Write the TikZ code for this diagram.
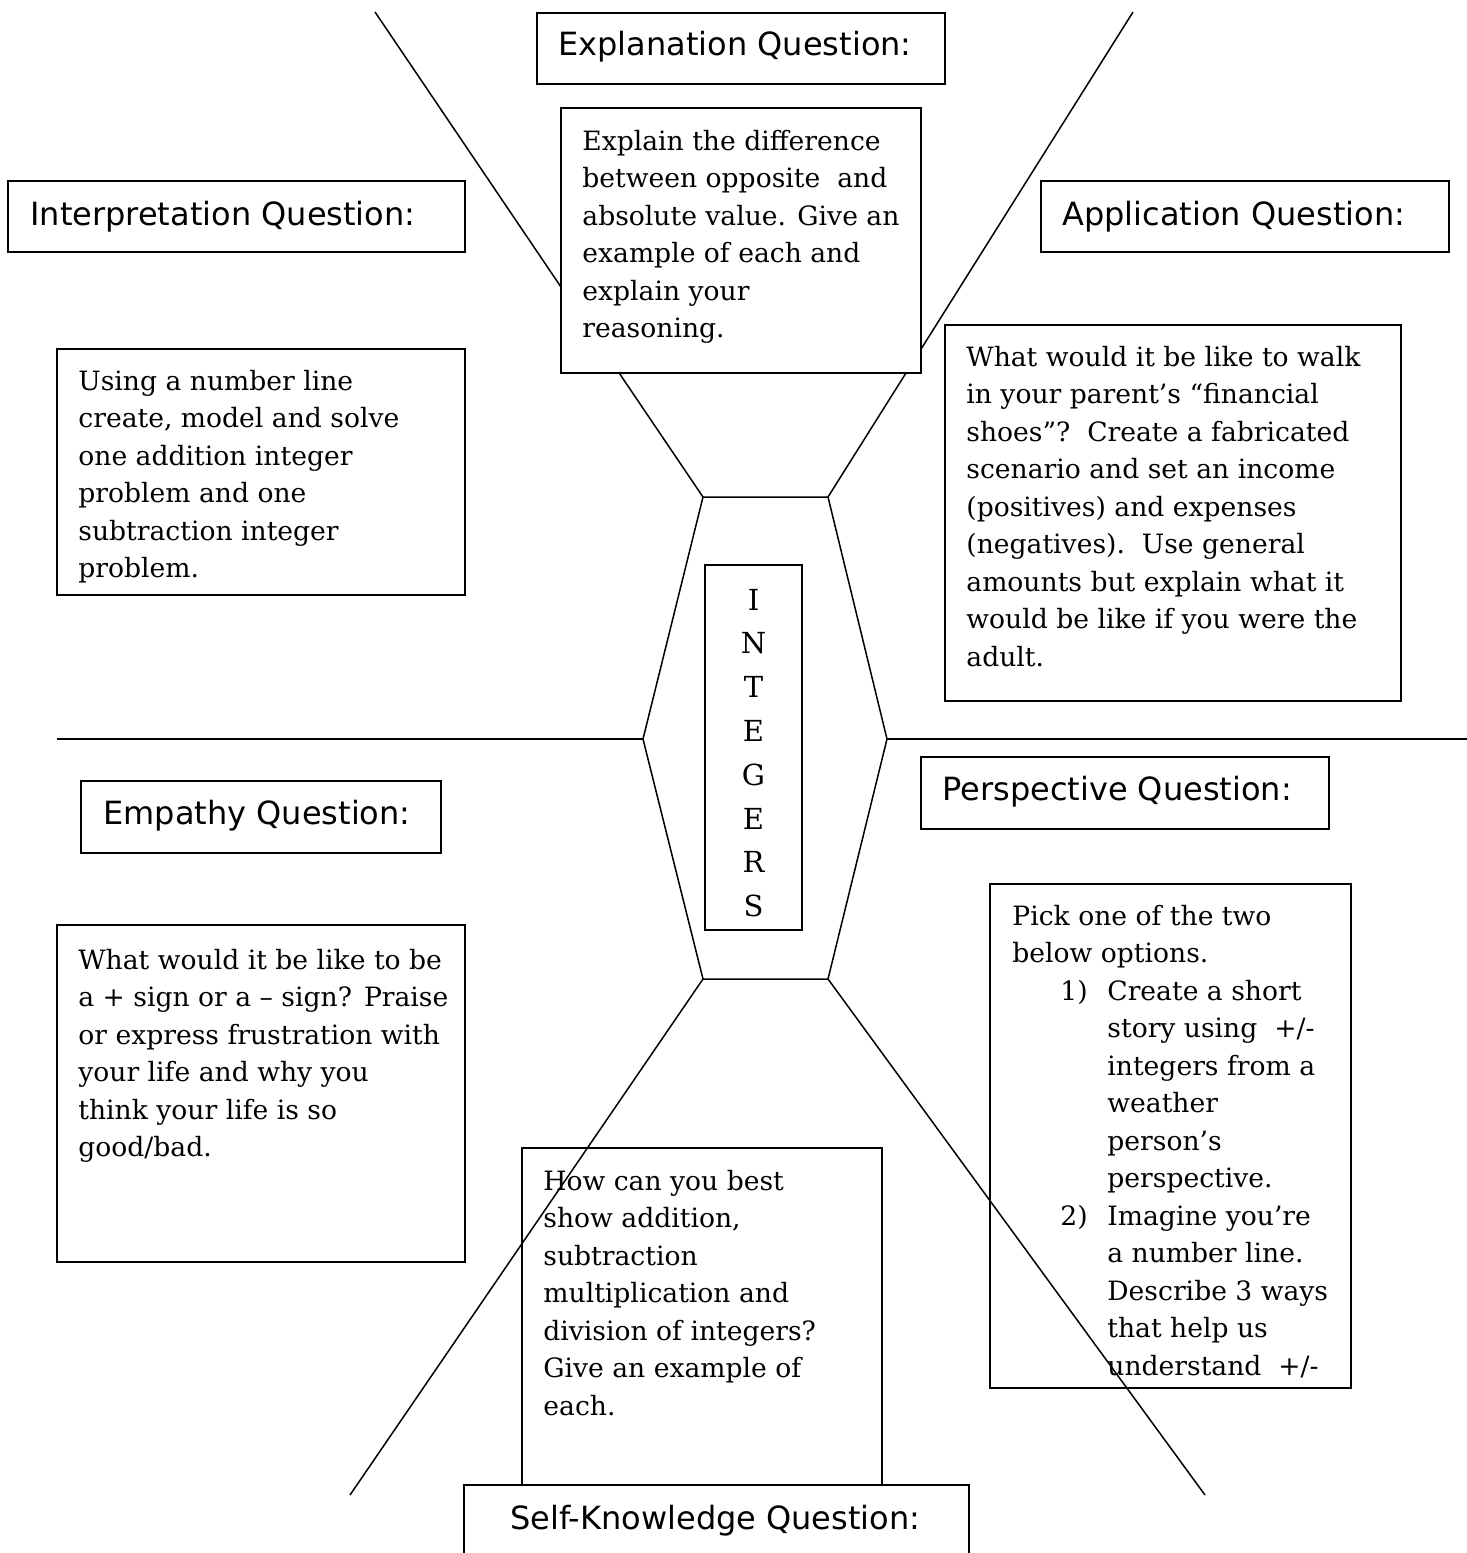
\documentclass[tikz,border=0pt]{standalone}
\usepackage{fontspec}
\setmainfont{DejaVu Serif}
\newfontfamily\headfont{DejaVu Sans}
\begin{document}
% a multi-line node sits on the baseline of its last line,
% so each text is placed by the baseline of that line
\begin{tikzpicture}[x=0.5pt,y=-0.5pt,
  box/.style={draw=black, line width=1pt, fill=white},
  rule/.style={draw=black, line width=0.75pt},
  heading/.style={anchor=base west, inner sep=0pt, font=\headfont\fontsize{16pt}{19pt}\selectfont},
  bodytext/.style={anchor=base west, inner sep=0pt, align=left, font=\fontsize{13.3pt}{18.75pt}\selectfont},
  lettercol/.style={anchor=base, inner sep=0pt, align=center, font=\fontsize{14.5pt}{21.9pt}\selectfont}]
\useasboundingbox[fill=white] (0,0) rectangle (1467,1553);

% hexagon corners
\coordinate (ht-l) at (703,497);
\coordinate (ht-r) at (828,497);
\coordinate (hm-l) at (643,739);
\coordinate (hm-r) at (887,739);
\coordinate (hb-l) at (703,979);
\coordinate (hb-r) at (828,979);
% free ends of the spokes
\coordinate (top-l) at (375,12);
\coordinate (top-r) at (1133,12);
\coordinate (bot-l) at (350,1495);
\coordinate (bot-r) at (1205,1495);
\coordinate (mid-l) at (57,739);
\coordinate (mid-r) at (1467,739);

% upper spokes run beneath the boxes
\draw[rule] (top-l) -- (ht-l);
\draw[rule] (top-r) -- (ht-r);
\draw[rule] (mid-l) -- (hm-l);
\draw[rule] (hm-r) -- (mid-r);
\draw[rule] (ht-l) -- (ht-r) -- (hm-r) -- (hb-r) -- (hb-l) -- (hm-l) -- cycle;

% heading boxes
\draw[box] (537,13) rectangle (945,84);
\node[heading] (h-expl) at (558,55) {Explanation Question:};
\draw[box] (8,181) rectangle (465,252);
\node[heading] (h-interp) at (30,225) {Interpretation Question:};
\draw[box] (1041,181) rectangle (1449,252);
\node[heading] (h-appl) at (1062,225) {Application Question:};
\draw[box] (81,781) rectangle (441,853);
\node[heading] (h-emp) at (103,824) {Empathy Question:};
\draw[box] (921,757) rectangle (1329,829);
\node[heading] (h-persp) at (942,800) {Perspective Question:};
\draw[box] (464,1560) -- (464,1485) -- (969,1485) -- (969,1560);
\node[heading] (h-self) at (510,1529) {Self-Knowledge Question:};

% body boxes
\draw[box] (561,108) rectangle (921,373);
\node[bodytext] (t-expl) at (582,337.5) {Explain the difference\\between opposite\ \ and\\absolute value. Give an\\example of each and\\explain your\\reasoning.};

\draw[box] (57,349) rectangle (465,595);
\node[bodytext] (t-interp) at (78,577.5) {Using a number line\\create, model and solve\\one addition integer\\problem and one\\subtraction integer\\problem.};

\draw[box] (945,325) rectangle (1401,701);
\node[bodytext] (t-appl) at (966,666) {What would it be like to walk\\in your parent’s “financial\\shoes”?\ \ Create a fabricated\\scenario and set an income\\(positives) and expenses\\(negatives).\ \ Use general\\amounts but explain what it\\would be like if you were the\\adult.};

\draw[box] (57,925) rectangle (465,1262);
\node[bodytext] (t-emp) at (78,1156.5) {What would it be like to be\\a + sign or a – sign?\hspace{0.45em}Praise\\or express frustration with\\your life and why you\\think your life is so\\good/bad.};

\draw[box] (990,884) rectangle (1351,1388);
\node[bodytext] (t-persp) at (1012,962.5) {Pick one of the two\\below options.};
\node[bodytext] (n-one) at (1060,1000) {1)};
\node[bodytext] (t-one) at (1107,1187.5) {Create a short\\story using\ \ +/-\\integers from a\\weather\\person’s\\perspective.};
\node[bodytext] (n-two) at (1060,1225) {2)};
\node[bodytext] (t-two) at (1107,1375) {Imagine you’re\\a number line.\\Describe 3 ways\\that help us\\understand\ \ +/-};

\draw[box] (522,1148) rectangle (882,1485);
\node[bodytext] (t-self) at (543,1415) {How can you best\\show addition,\\subtraction\\multiplication and\\division of integers?\\Give an example of\\each.};

% centre label
\draw[box] (705,565) rectangle (802,930);
\node[lettercol] (word) at (753.5,916.6) {I\\N\\T\\E\\G\\E\\R\\S};

% lower spokes cross over the boxes
\draw[rule] (hb-l) -- (bot-l);
\draw[rule] (hb-r) -- (bot-r);
\end{tikzpicture}
\end{document}
